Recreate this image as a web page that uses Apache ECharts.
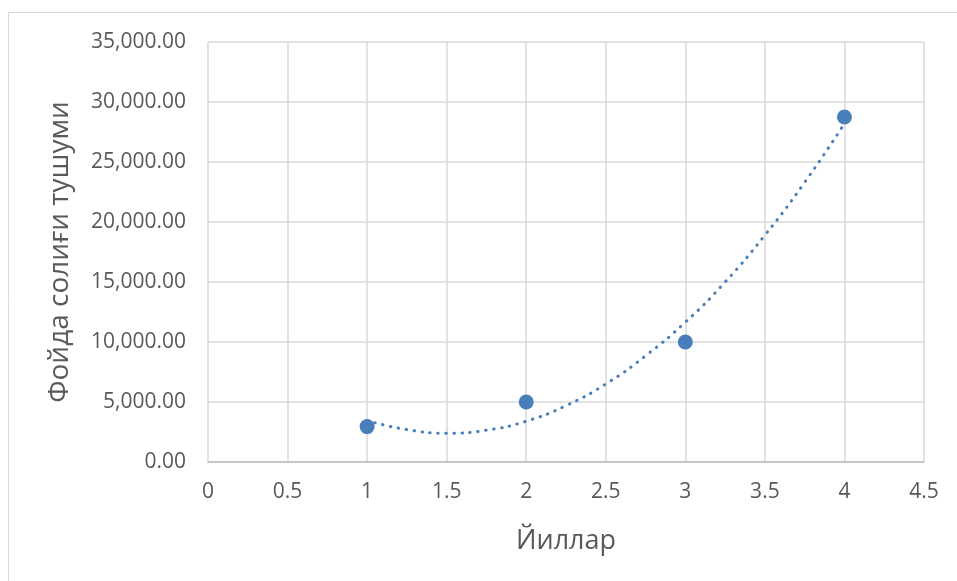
<!DOCTYPE html>
<html>
<head>
<meta charset="utf-8">
<script src="https://cdn.jsdelivr.net/npm/echarts@6/dist/echarts.min.js"></script>
<style>
  html, body { margin: 0; padding: 0; background: #fff; }
  #chart { width: 957px; height: 581px; }
</style>
</head>
<body>
<div id="chart"></div>
<script>
// observed values (year, tax revenue)
const years = [1, 2, 3, 4];
const revenue = [2950, 5000, 10000, 28750];

// dotted trendline at quarter steps
const trendX = [1, 1.25, 1.5, 1.75, 2, 2.25, 2.5, 2.75, 3, 3.25, 3.5, 3.75, 4];
const trendY = [3450, 2700, 2400, 2650, 3400, 4700, 6500, 8850, 11650, 15000, 18900, 23300, 28200];

const xTitle = "Йиллар";
const yTitle = "Фойда солиғи тушуми";

const FONT = "'Open Sans', 'Noto Sans', sans-serif";
const TEXT = "#595959";
const BLUE = "#4a7ebb";

const chart = echarts.init(document.getElementById("chart"));
chart.setOption({
  animation: false,
  textStyle: { fontFamily: FONT },
  graphic: [{
    type: "rect",
    shape: { x: 8.5, y: 12.5, width: 960, height: 600 },
    style: { fill: "none", stroke: "#d9d9d9", lineWidth: 1 },
    silent: true
  }],
  grid: { left: 208, right: 33, top: 42, bottom: 119 },
  xAxis: {
    type: "value",
    min: 0,
    max: 4.5,
    interval: 0.5,
    name: xTitle,
    nameLocation: "middle",
    nameGap: 66,
    nameTextStyle: { color: TEXT, fontSize: 27, fontFamily: FONT },
    axisLine: { show: true, lineStyle: { color: "#bfbfbf", width: 1.5 } },
    axisTick: { show: false },
    axisLabel: { color: TEXT, fontSize: 21, margin: 20, formatter: v => String(v) },
    splitLine: { show: true, lineStyle: { color: "#d9d9d9", width: 1.5 } }
  },
  yAxis: {
    type: "value",
    min: 0,
    max: 35000,
    interval: 5000,
    name: yTitle,
    nameLocation: "middle",
    nameGap: 134,
    nameTextStyle: { color: TEXT, fontSize: 28, fontFamily: FONT },
    axisLine: { show: false },
    axisTick: { show: false },
    axisLabel: {
      color: TEXT,
      fontSize: 21,
      margin: 22,
      formatter: v => v.toLocaleString("en-US", { minimumFractionDigits: 2, maximumFractionDigits: 2 })
    },
    splitLine: { show: true, lineStyle: { color: "#d9d9d9", width: 1.5 } }
  },
  series: [
    {
      name: "trend",
      type: "line",
      smooth: true,
      showSymbol: false,
      z: 2,
      lineStyle: { color: BLUE, width: 3, type: [0.5, 7.5], cap: "round" },
      data: trendX.map((x, i) => [x, trendY[i]])
    },
    {
      name: "revenue",
      type: "scatter",
      symbolSize: 15,
      z: 3,
      itemStyle: { color: BLUE, opacity: 1 },
      data: years.map((x, i) => [x, revenue[i]])
    }
  ]
});
</script>
</body>
</html>
